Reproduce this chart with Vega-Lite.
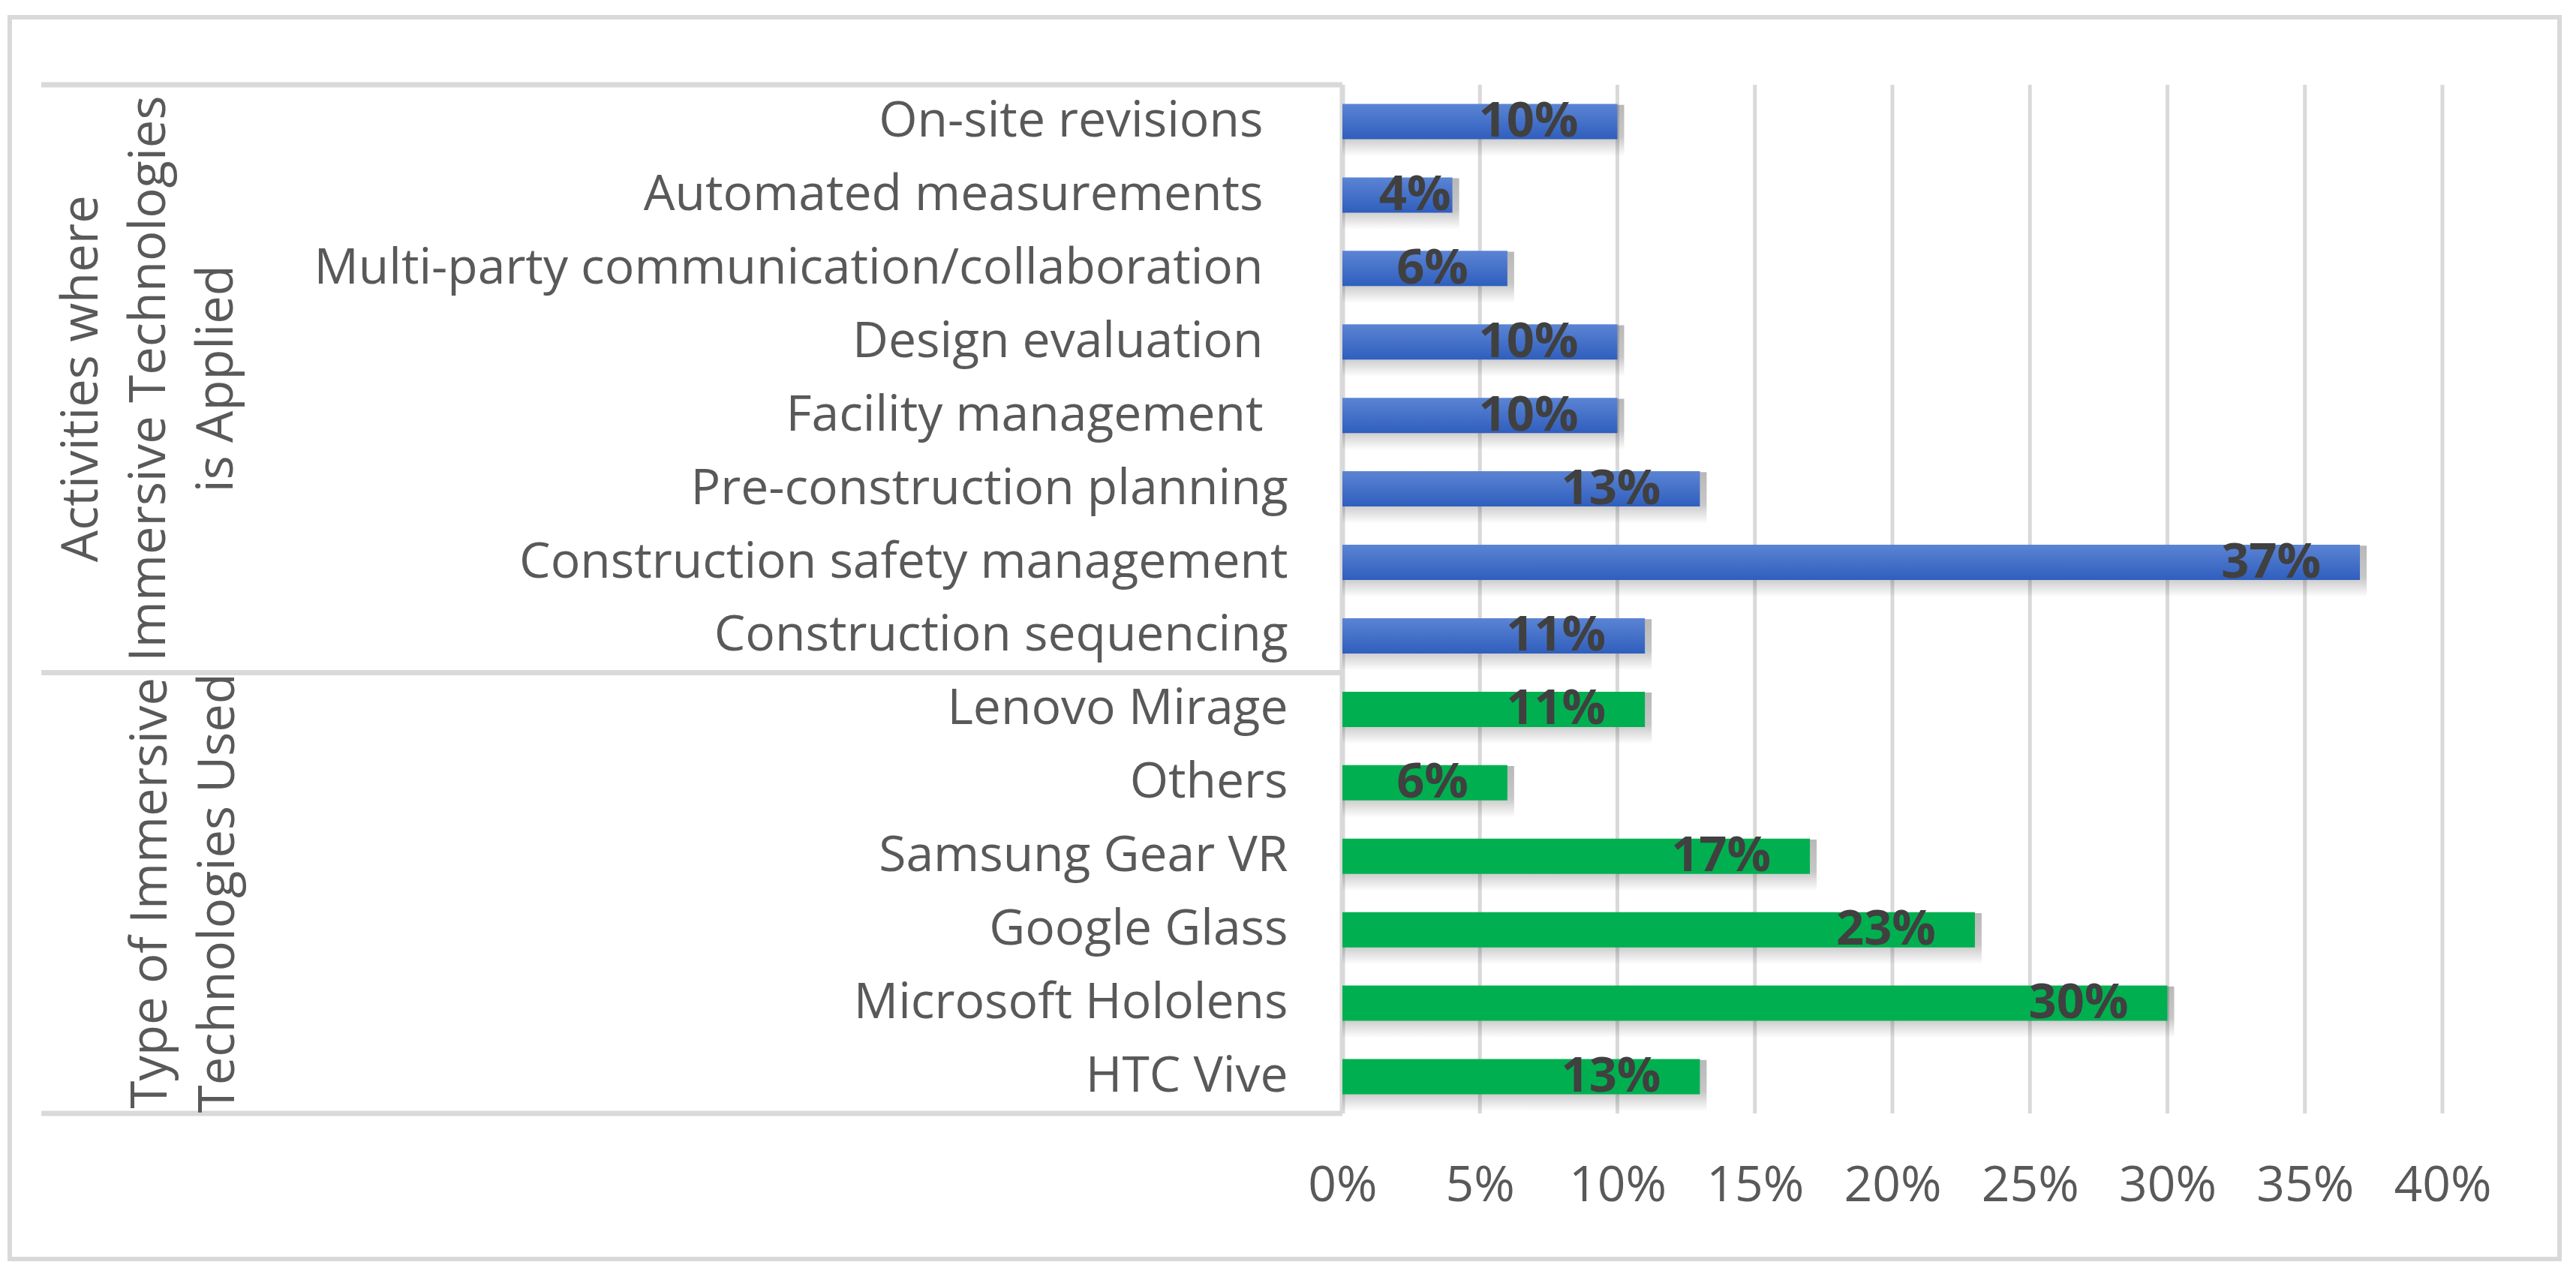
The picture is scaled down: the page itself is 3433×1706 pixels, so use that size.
{
  "$schema": "https://vega.github.io/schema/vega-lite/v6.json",
  "width": 3398,
  "height": 1655,
  "autosize": {"type": "none"},
  "padding": {"left": 13, "top": 23, "right": 22, "bottom": 28},
  "background": "#ffffff",
  "config": {
    "view": {"stroke": "#d9d9d9", "strokeWidth": 6},
    "font": "Open Sans"
  },
  "data": {
    "values": [
      {"cat": "On-site revisions\u2002\u200b", "value": 0.10, "grp": "Activities"},
      {"cat": "Automated measurements\u2002\u200b", "value": 0.04, "grp": "Activities"},
      {"cat": "Multi-party communication/collaboration\u2002\u200b", "value": 0.06, "grp": "Activities"},
      {"cat": "Design evaluation\u2002\u200b", "value": 0.10, "grp": "Activities"},
      {"cat": "Facility management\u2002\u200b", "value": 0.10, "grp": "Activities"},
      {"cat": "Pre-construction planning", "value": 0.13, "grp": "Activities"},
      {"cat": "Construction safety management", "value": 0.37, "grp": "Activities"},
      {"cat": "Construction sequencing", "value": 0.11, "grp": "Activities"},
      {"cat": "Lenovo Mirage", "value": 0.11, "grp": "Type"},
      {"cat": "Others", "value": 0.06, "grp": "Type"},
      {"cat": "Samsung Gear VR", "value": 0.17, "grp": "Type"},
      {"cat": "Google Glass", "value": 0.23, "grp": "Type"},
      {"cat": "Microsoft Hololens", "value": 0.30, "grp": "Type"},
      {"cat": "HTC Vive", "value": 0.13, "grp": "Type"}
    ]
  },
  "encoding": {
    "y": {
      "field": "cat",
      "type": "nominal",
      "sort": null,
      "scale": {
        "type": "band",
        "domain": [
          "On-site revisions\u2002\u200b",
          "Automated measurements\u2002\u200b",
          "Multi-party communication/collaboration\u2002\u200b",
          "Design evaluation\u2002\u200b",
          "Facility management\u2002\u200b",
          "Pre-construction planning",
          "Construction safety management",
          "Construction sequencing",
          "Lenovo Mirage",
          "Others",
          "Samsung Gear VR",
          "Google Glass",
          "Microsoft Hololens",
          "HTC Vive"
        ],
        "range": [90, 1461],
        "paddingInner": 0,
        "paddingOuter": 0
      },
      "axis": {
        "title": null,
        "orient": "left",
        "offset": -1776,
        "domain": false,
        "ticks": false,
        "grid": false,
        "labelPadding": 73,
        "labelFont": "Open Sans",
        "labelFontSize": 66,
        "labelColor": "#595959",
        "labelLimit": 0,
        "labelAlign": "right",
        "labelBaseline": "middle"
      }
    }
  },
  "layer": [
    {
      "data": {"values": [{"t": 0.05}, {"t": 0.10}, {"t": 0.15}, {"t": 0.20}, {"t": 0.25}, {"t": 0.30}, {"t": 0.35}, {"t": 0.40}]},
      "mark": {"type": "rule", "color": "#d9d9d9", "strokeWidth": 5},
      "encoding": {
        "x": {"field": "t", "type": "quantitative"},
        "y": {"datum": "On-site revisions\u2002\u200b", "type": "nominal", "bandPosition": 0},
        "y2": {"datum": "HTC Vive", "bandPosition": 1}
      }
    },
    {
      "data": {"values": [
        {"row": "On-site revisions\u2002\u200b"},
        {"row": "Lenovo Mirage"}
      ]},
      "mark": {"type": "rule", "color": "#d9d9d9", "strokeWidth": 7},
      "encoding": {
        "x": {"datum": -0.4731, "type": "quantitative"},
        "x2": {"datum": 0},
        "y": {"field": "row", "type": "nominal", "bandPosition": 0}
      }
    },
    {
      "data": {"values": [{"row": "HTC Vive"}]},
      "mark": {"type": "rule", "color": "#d9d9d9", "strokeWidth": 7},
      "encoding": {
        "x": {"datum": -0.4731, "type": "quantitative"},
        "x2": {"datum": 0},
        "y": {"field": "row", "type": "nominal", "bandPosition": 1}
      }
    },
    {
      "data": {"values": [{"row": "axis"}]},
      "mark": {"type": "rule", "color": "#d9d9d9", "strokeWidth": 7},
      "encoding": {
        "x": {"datum": 0, "type": "quantitative"},
        "y": {"datum": "On-site revisions\u2002\u200b", "type": "nominal", "bandPosition": 0},
        "y2": {"datum": "HTC Vive", "bandPosition": 1}
      }
    },
    {
      "mark": {
        "type": "bar",
        "height": {"band": 0.7},
        "yOffset": 12,
        "xOffset": 9,
        "color": {
          "gradient": "linear",
          "x1": 0, "y1": 0, "x2": 0, "y2": 1,
          "stops": [
            {"offset": 0, "color": "rgba(0,0,0,0.28)"},
            {"offset": 0.62, "color": "rgba(0,0,0,0.22)"},
            {"offset": 1, "color": "rgba(0,0,0,0)"}
          ]
        }
      },
      "encoding": {
        "x": {"field": "value", "type": "quantitative"},
        "x2": {"datum": 0}
      }
    },
    {
      "transform": [{"filter": "datum.grp === 'Activities'"}],
      "mark": {
        "type": "bar",
        "height": {"band": 0.48},
        "color": {
          "gradient": "linear",
          "x1": 0, "y1": 0, "x2": 0, "y2": 1,
          "stops": [
            {"offset": 0, "color": "#5b84d4"},
            {"offset": 1, "color": "#2f5ebd"}
          ]
        }
      },
      "encoding": {
        "x": {
          "field": "value",
          "type": "quantitative",
          "scale": {"domain": [-0.48458, 0.44257], "zero": false, "nice": false},
          "axis": {
            "title": null,
            "orient": "bottom",
            "offset": -194,
            "values": [0, 0.05, 0.1, 0.15, 0.2, 0.25, 0.3, 0.35, 0.4],
            "format": ".0%",
            "domain": false,
            "ticks": false,
            "grid": false,
            "labelPadding": 96,
            "labelBaseline": "middle",
            "labelFlush": false,
            "labelOverlap": false,
            "labelFont": "Open Sans",
            "labelFontSize": 66,
            "labelColor": "#595959"
          }
        },
        "x2": {"datum": 0}
      }
    },
    {
      "transform": [{"filter": "datum.grp === 'Type'"}],
      "mark": {"type": "bar", "height": {"band": 0.48}, "color": "#00b050"},
      "encoding": {
        "x": {"field": "value", "type": "quantitative"},
        "x2": {"datum": 0}
      }
    },
    {
      "transform": [{"filter": "datum.value >= 0.05"}],
      "mark": {
        "type": "text",
        "align": "right",
        "baseline": "middle",
        "dx": -52,
        "font": "Open Sans",
        "fontWeight": "bold",
        "fontSize": 65,
        "color": "#404040"
      },
      "encoding": {
        "x": {"field": "value", "type": "quantitative"},
        "text": {"field": "value", "type": "quantitative", "format": ".0%"}
      }
    },
    {
      "transform": [{"filter": "datum.value < 0.05"}],
      "mark": {
        "type": "text",
        "align": "right",
        "baseline": "middle",
        "dx": -2,
        "font": "Open Sans",
        "fontWeight": "bold",
        "fontSize": 65,
        "color": "#404040"
      },
      "encoding": {
        "x": {"field": "value", "type": "quantitative"},
        "text": {"field": "value", "type": "quantitative", "format": ".0%"}
      }
    },
    {
      "data": {"values": [
        {"label": "Activities where\nImmersive Technologies\nis Applied", "anchor": "Design evaluation\u2002\u200b"}
      ]},
      "mark": {
        "type": "text",
        "angle": 270,
        "align": "center",
        "baseline": "bottom",
        "lineBreak": "\n",
        "lineHeight": 90,
        "font": "Open Sans",
        "fontSize": 67,
        "color": "#595959"
      },
      "encoding": {
        "x": {"datum": -0.4488, "type": "quantitative"},
        "y": {"field": "anchor", "type": "nominal", "bandPosition": 1},
        "text": {"field": "label", "type": "nominal"}
      }
    },
    {
      "data": {"values": [
        {"label": "Type of Immersive\nTechnologies Used", "anchor": "Samsung Gear VR"}
      ]},
      "mark": {
        "type": "text",
        "angle": 270,
        "align": "center",
        "baseline": "bottom",
        "lineBreak": "\n",
        "lineHeight": 90,
        "font": "Open Sans",
        "fontSize": 67,
        "color": "#595959"
      },
      "encoding": {
        "x": {"datum": -0.4237, "type": "quantitative"},
        "y": {"field": "anchor", "type": "nominal", "bandPosition": 1},
        "text": {"field": "label", "type": "nominal"}
      }
    }
  ]
}
